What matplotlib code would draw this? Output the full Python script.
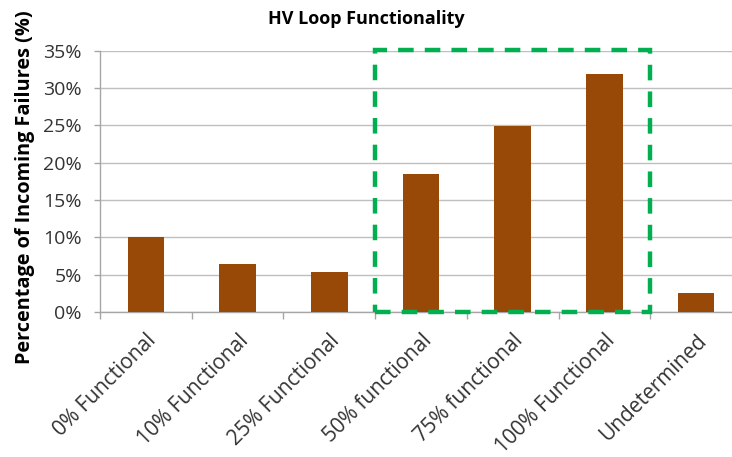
import matplotlib
matplotlib.use("Agg")
import matplotlib.pyplot as plt
from matplotlib.patches import Rectangle
from matplotlib.ticker import FuncFormatter, MultipleLocator

categories = ["0% Functional", "10% Functional", "25% Functional", "50% functional",
              "75% functional", "100% Functional", "Undetermined"]
failure_pct = [10.1, 6.4, 5.3, 18.5, 24.9, 31.9, 2.6]
highlight_range = (3, 5)  # indices of categories framed by the dashed box

plt.rcParams["font.family"] = ["Open Sans", "DejaVu Sans"]

fig = plt.figure(figsize=(7.32, 4.57), dpi=100)
ax = fig.add_axes([100 / 732, 1 - 312 / 457, 642 / 732, (312 - 50.7) / 457])

x = list(range(len(categories)))
ax.bar(x, failure_pct, width=0.40, color="#984807", zorder=3)

ax.set_xlim(-0.5, len(categories) - 0.5)
ax.set_ylim(0, 35)
ax.yaxis.set_major_locator(MultipleLocator(5))
ax.yaxis.set_major_formatter(FuncFormatter(lambda v, _: f"{v:.0f}%"))
ax.grid(axis="y", color="#BFBFBF", linewidth=1, zorder=0)
ax.set_axisbelow(True)

for side in ("right", "top"):
    ax.spines[side].set_visible(False)
for side in ("left", "bottom"):
    ax.spines[side].set_color("#A6A6A6")
    ax.spines[side].set_linewidth(1)

ax.set_xticks(x)
ax.set_xticklabels(categories, rotation=45, ha="right", rotation_mode="anchor",
                   fontsize=15, color="#333333")
ax.tick_params(axis="x", length=0, pad=13)
ax.set_xticks([i - 0.5 for i in range(len(categories) + 1)], minor=True)
ax.tick_params(axis="x", which="minor", length=5, color="#A6A6A6", width=1)
ax.tick_params(axis="y", length=4, color="#A6A6A6", width=1, pad=9,
               labelsize=14, labelcolor="#333333")

ax.set_ylabel("Percentage of Incoming Failures (%)", fontsize=14.3, fontweight="bold")
ax.yaxis.set_label_coords(-0.101, 0.478)
ax.set_title("HV Loop Functionality", fontsize=13, fontweight="bold", pad=19,
             x=(366 - 100) / 642)

lo, hi = highlight_range
box = Rectangle((lo - 0.5, 0), hi - lo + 1, 35.1, fill=False, edgecolor="#00B050",
                linewidth=3.2, linestyle=(0, (3.5, 2.5)), zorder=4, clip_on=False)
ax.add_patch(box)

fig.savefig("out.png", dpi=100)
